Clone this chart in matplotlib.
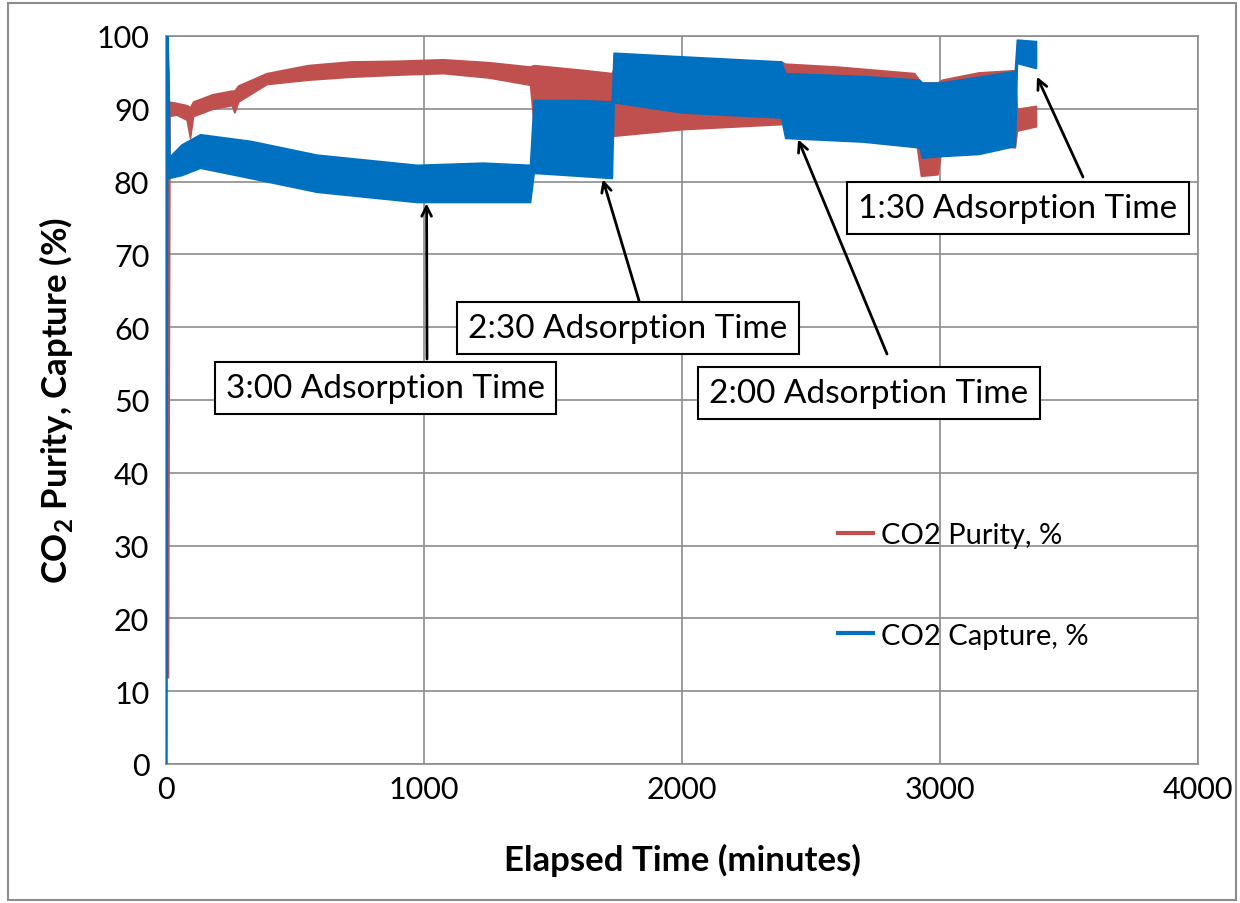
import matplotlib
matplotlib.use("Agg")
import matplotlib.pyplot as plt
from matplotlib.lines import Line2D
from matplotlib.patches import Rectangle

plt.rcParams['font.family'] = ['Lato', 'DejaVu Sans']
plt.rcParams['mathtext.fontset'] = 'custom'
plt.rcParams['mathtext.rm'] = 'Lato:bold'

# start-up transients (minutes, %)
pur_start_t = [6, 12]
pur_start_y = [12, 89]
cap_start_t = [0, 3, 8, 12]
cap_start_y = [0, 100, 95, 82]

# CO2 purity band: time, upper and lower envelope of the cycling signal
pur_t = [10, 40, 80, 93, 105, 180, 255, 265, 280, 390, 550, 713, 900, 1074, 1250, 1411,
         1425, 1600, 1728, 1735, 2000, 2384, 2400, 2600, 2900, 2926, 2990, 3008, 3150,
         3290, 3298, 3372]
pur_hi = [91.0, 90.8, 90.5, 90.2, 91.0, 92.0, 92.5, 92.5, 93.2, 94.9, 96.0, 96.5, 96.6,
          96.8, 96.4, 95.8, 96.0, 95.4, 94.9, 95.5, 96.0, 96.5, 96.2, 95.8, 94.9, 93.6,
          93.6, 94.0, 95.0, 95.3, 90.0, 90.4]
pur_lo = [89.0, 89.2, 88.5, 86.0, 89.0, 90.0, 90.5, 89.5, 91.0, 93.4, 94.0, 94.4, 94.7,
          94.9, 94.3, 93.3, 88.0, 88.0, 88.0, 86.3, 87.2, 87.9, 88.0, 88.0, 87.5, 80.8,
          81.0, 85.0, 85.2, 84.7, 87.0, 87.6]

# CO2 capture band
cap_t = [10, 60, 132, 326, 584, 972, 1229, 1411, 1425, 1600, 1728, 1735, 2000, 2384,
         2400, 2700, 2920, 2930, 3000, 3150, 3290, 3298, 3372]
cap_hi = [83.3, 85.1, 86.5, 85.6, 83.7, 82.3, 82.6, 82.3, 91.2, 91.2, 91.0, 97.7, 97.2,
          96.5, 94.9, 94.5, 94.0, 93.6, 93.6, 94.4, 95.2, 99.5, 99.3]
cap_lo = [80.5, 80.9, 81.9, 80.5, 78.6, 77.2, 77.2, 77.2, 81.2, 80.8, 80.5, 90.9, 89.5,
          88.8, 86.0, 85.5, 84.7, 83.3, 83.5, 83.8, 84.9, 96.3, 95.6]

red = '#C0504D'
blue = '#0070C0'

fig = plt.figure(figsize=(12.4, 9.04), dpi=100)
ax = fig.add_axes([166/1240, 139/904, 1032/1240, 728/904])

ax.plot(pur_start_t, pur_start_y, color=red, lw=2.5, zorder=3)
ax.fill_between(pur_t, pur_lo, pur_hi, color=red, lw=1.2, edgecolor=red, zorder=3)
ax.plot(cap_start_t, cap_start_y, color=blue, lw=2.5, zorder=4)
ax.fill_between(cap_t, cap_lo, cap_hi, color=blue, lw=1.2, edgecolor=blue, zorder=4)

ax.set_xlim(0, 4000)
ax.set_ylim(0, 100)
ax.set_xticks([0, 1000, 2000, 3000, 4000])
ax.set_yticks(range(0, 101, 10))
ax.grid(True, color='#8c8c8c', lw=1.2)
ax.set_axisbelow(True)
for s in ax.spines.values():
    s.set_color('#8c8c8c')
    s.set_linewidth(1.2)
ax.tick_params(axis='both', length=0, labelsize=22)
ax.tick_params(axis='y', pad=12)
ax.tick_params(axis='x', pad=8)

ax.set_xlabel('Elapsed Time (minutes)', fontsize=25, fontweight='bold', va='center')
ax.set_ylabel(r'CO$_{2}$ Purity, Capture (%)', fontsize=25, fontweight='bold', va='center')
ax.xaxis.set_label_coords(0.5, -0.131)
ax.yaxis.set_label_coords(-0.107, 0.5)

handles = [Line2D([], [], color=red, lw=3), Line2D([], [], color=blue, lw=3)]
fig.legend(handles, ['CO2 Purity, %', 'CO2 Capture, %'], loc='upper left',
           bbox_to_anchor=(812/1240, 1 - 497/904), frameon=False, fontsize=21,
           handlelength=1.2, handletextpad=0.25, labelspacing=2.55)

# annotations: (label, box centre in px from top-left, arrow start px, arrow tip data)
notes = [
    ('3:00 Adsorption Time', (385, 389), (427, 360), (1010, 77.0)),
    ('2:30 Adsorption Time', (628, 329), (640, 305), (1693, 80.3)),
    ('2:00 Adsorption Time', (869, 394), (887, 355), (2450, 85.8)),
    ('1:30 Adsorption Time', (1018, 209), (1083, 178), (3376, 94.4)),
]
for label, (cx, cy), (sx, sy), tip in notes:
    fig.text(cx/1240, 1 - cy/904, label, ha='center', va='center', fontsize=24,
             bbox=dict(boxstyle='square,pad=0.33', fc='white', ec='black', lw=1.5),
             zorder=10)
    ax.annotate('', xy=tip, xycoords='data', xytext=(sx/1240, 1 - sy/904),
                textcoords='figure fraction',
                arrowprops=dict(arrowstyle='->,head_length=0.7,head_width=0.35',
                                color='black', lw=2, shrinkA=0, shrinkB=0), zorder=9)

fig.patches.append(Rectangle((8/1240, 3/904), 1228/1240, 897/904, transform=fig.transFigure,
                             fill=False, ec='#8c8c8c', lw=1.5))

fig.savefig('out.png', dpi=100)
